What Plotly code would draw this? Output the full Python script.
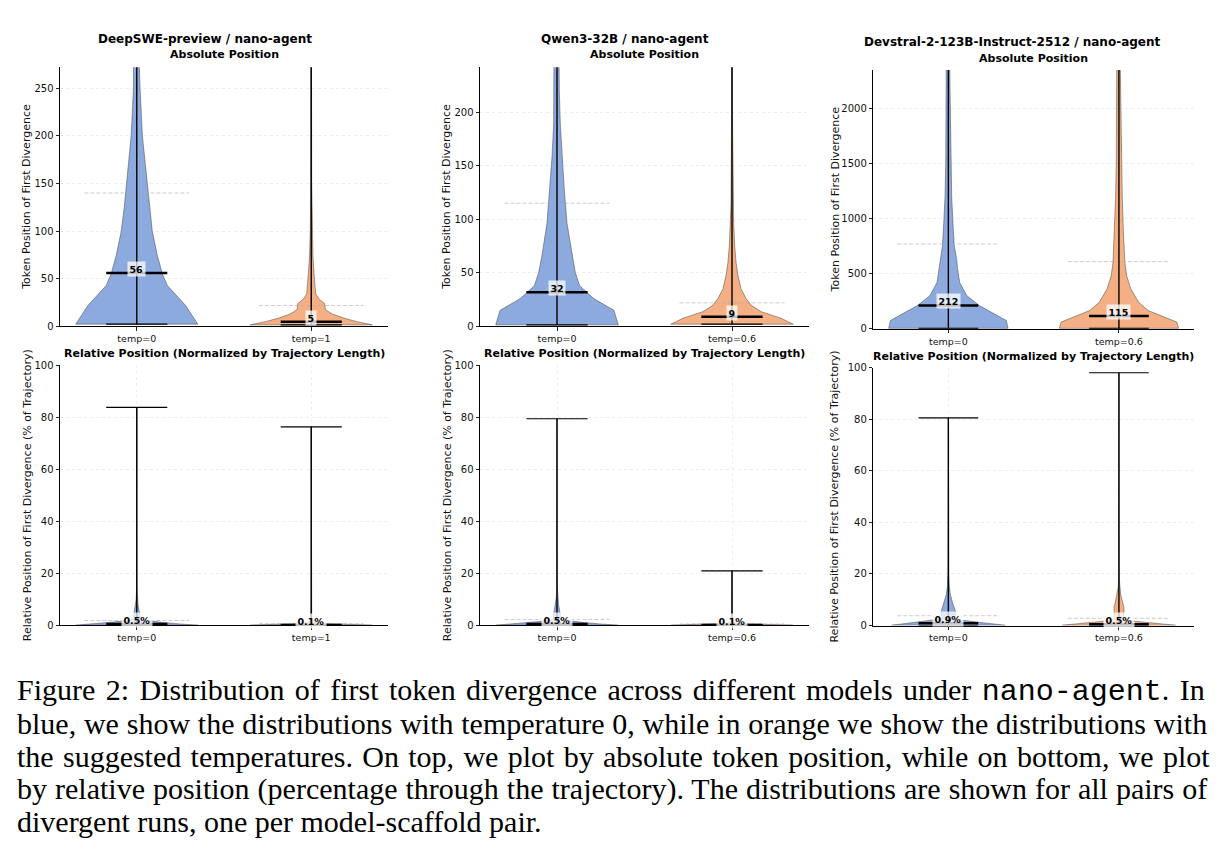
import plotly.graph_objects as go

W, H = 1219, 857

# ---------------- data ----------------
column_titles = ["DeepSWE-preview / nano-agent", "Qwen3-32B / nano-agent",
                 "Devstral-2-123B-Instruct-2512 / nano-agent"]
abs_title = "Absolute Position"
rel_title = "Relative Position (Normalized by Trajectory Length)"
abs_ylabel = "Token Position of First Divergence"
rel_ylabel = "Relative Position of First Divergence (% of Trajectory)"
temp_labels = [["temp=0", "temp=1"], ["temp=0", "temp=0.6"], ["temp=0", "temp=0.6"]]

abs_yticks = [[0, 50, 100, 150, 200, 250], [0, 50, 100, 150, 200], [0, 500, 1000, 1500, 2000]]
abs_ymax = [272, 242, 2350]
rel_yticks = [0, 20, 40, 60, 80, 100]

# summary statistics, [temp=0, suggested temp]
abs_median = [[56, 5], [32, 9], [212, 115]]
abs_mean = [[140, 22], [115, 22], [770, 610]]
abs_min = [[2.4, 1.7], [1.5, 2.1], [3, 3]]
abs_max = [[1400, 900], [800, 600], [6000, 6000]]
rel_median = [[0.5, 0.1], [0.5, 0.1], [0.9, 0.5]]
rel_mean = [[1.8, 0.6], [2.2, 0.5], [3.8, 2.8]]
rel_min = [[0.0, 0.0], [0.0, 0.0], [0.0, 0.0]]
rel_max = [[83.8, 76.3], [79.4, 20.9], [80.5, 98.0]]

# violin density profiles (level, relative density)
deepswe_t0_abs_y = [2.4, 22, 43, 55, 75, 100, 125, 150, 175, 200, 250, 272, 400, 800, 1400]
deepswe_t0_abs_d = [1.0, 0.80, 0.50, 0.42, 0.335, 0.254, 0.205, 0.168, 0.13, 0.092, 0.054, 0.043, 0.02, 0.006, 0.0]
deepswe_t1_abs_y = [1.7, 5, 9, 13, 16, 18, 24, 28.6, 34, 43, 50, 57, 74, 100, 150, 300, 900]
deepswe_t1_abs_d = [1.0, 0.75, 0.52, 0.35, 0.27, 0.23, 0.22, 0.13, 0.075, 0.06, 0.058, 0.045, 0.028, 0.015, 0.008, 0.003, 0.0]
qwen_t0_abs_y = [1.5, 15, 26, 38, 50, 66, 96, 127, 158, 188, 219, 242, 400, 800]
qwen_t0_abs_d = [1.0, 0.93, 0.60, 0.37, 0.30, 0.246, 0.164, 0.12, 0.082, 0.055, 0.038, 0.027, 0.011, 0.0]
qwen_t06_abs_y = [2.1, 7.7, 13.8, 20, 26, 35, 47.5, 60, 75, 96, 115, 200, 600]
qwen_t06_abs_d = [1.0, 0.80, 0.475, 0.31, 0.23, 0.148, 0.098, 0.066, 0.044, 0.028, 0.016, 0.007, 0.0]
devstral_t0_abs_y = [3, 75, 210, 300, 420, 540, 630, 750, 900, 1200, 1500, 1800, 2100, 2400, 6000]
devstral_t0_abs_d = [1.0, 0.97, 0.52, 0.31, 0.19, 0.155, 0.14, 0.10, 0.083, 0.056, 0.044, 0.033, 0.028, 0.022, 0.0]
devstral_t06_abs_y = [3, 60, 165, 240, 360, 480, 600, 900, 1200, 1500, 1800, 2100, 2400, 6000]
devstral_t06_abs_d = [1.0, 0.97, 0.49, 0.33, 0.20, 0.13, 0.10, 0.073, 0.056, 0.045, 0.034, 0.028, 0.022, 0.0]

deepswe_t0_rel_y = [0.0, 0.5, 1.0, 1.5, 2.0, 2.5, 4, 6, 8, 10, 14, 30, 83.8]
deepswe_t0_rel_d = [1.0, 0.70, 0.45, 0.25, 0.10, 0.06, 0.05, 0.035, 0.02, 0.01, 0.004, 0.001, 0.0]
deepswe_t1_rel_y = [0.0, 0.3, 0.6, 1.0, 1.5, 3, 10, 76.3]
deepswe_t1_rel_d = [1.0, 0.60, 0.30, 0.08, 0.02, 0.008, 0.002, 0.0]
qwen_t0_rel_y = [0.0, 0.5, 1.0, 1.5, 2.0, 2.5, 4, 6, 8, 11, 15, 30, 79.4]
qwen_t0_rel_d = [1.0, 0.70, 0.45, 0.25, 0.10, 0.065, 0.055, 0.04, 0.025, 0.01, 0.004, 0.001, 0.0]
qwen_t06_rel_y = [0.0, 0.25, 0.5, 0.8, 1.5, 5, 20.9]
qwen_t06_rel_d = [1.0, 0.60, 0.30, 0.08, 0.02, 0.004, 0.0]
devstral_t0_rel_y = [0.1, 1, 2, 2.5, 3, 4, 5.5, 7, 9, 12, 15, 20, 40, 80.5]
devstral_t0_rel_d = [0.95, 0.61, 0.24, 0.136, 0.10, 0.12, 0.12, 0.10, 0.068, 0.034, 0.017, 0.007, 0.002, 0.0]
devstral_t06_rel_y = [0.1, 1, 1.9, 2.5, 4, 6, 7.5, 9, 12, 15, 18, 40, 98]
devstral_t06_rel_d = [0.95, 0.55, 0.15, 0.08, 0.08, 0.085, 0.08, 0.06, 0.03, 0.012, 0.005, 0.001, 0.0]

abs_profiles = [[(deepswe_t0_abs_y, deepswe_t0_abs_d), (deepswe_t1_abs_y, deepswe_t1_abs_d)],
                [(qwen_t0_abs_y, qwen_t0_abs_d), (qwen_t06_abs_y, qwen_t06_abs_d)],
                [(devstral_t0_abs_y, devstral_t0_abs_d), (devstral_t06_abs_y, devstral_t06_abs_d)]]
rel_profiles = [[(deepswe_t0_rel_y, deepswe_t0_rel_d), (deepswe_t1_rel_y, deepswe_t1_rel_d)],
                [(qwen_t0_rel_y, qwen_t0_rel_d), (qwen_t06_rel_y, qwen_t06_rel_d)],
                [(devstral_t0_rel_y, devstral_t0_rel_d), (devstral_t06_rel_y, devstral_t06_rel_d)]]

caption_lines = [
    'Figure 2: Distribution of first token divergence across different models under '
    '<span style="font-family:Liberation Mono">nano-agent</span>. In',
    'blue, we show the distributions with temperature 0, while in orange we show the distributions with',
    'the suggested temperatures. On top, we plot by absolute token position, while on bottom, we plot',
    'by relative position (percentage through the trajectory). The distributions are shown for all pairs of',
    'divergent runs, one per model-scaffold pair.',
]
caption_word_spacing = [2.9, 0.3, 1.8, 0.5, 0.0]

# ---------------- style / layout ----------------
FILL = ["rgb(140,170,222)", "rgb(244,176,132)"]
FONT = "DejaVu Sans"
HALF_W = 0.35
CAP_W = 0.175
MEAN_W = 0.30

x_dom_px = [[60, 388], [480, 809], [873.3, 1194]]
y_top_px = [[62, 325], [62, 325], [65, 327.3]]
y_bot_px = [[364.3, 628], [364.3, 628], [366.7, 628.3]]
suptitle_px = [(205, 33), (625, 33), (1012, 37)]
ylabel_x_px = [27, 447, 835]

fig = go.Figure()
annotations = []
layout = {}


def px2x(p):
    return p / W


def px2y(p):
    return 1 - p / H


def add_panel(idx, col, prof, med, mean, mn, mx, yticks, yrange, title, title_y, ylabel, ypx, pct):
    xa = "x" if idx == 1 else f"x{idx}"
    ya = "y" if idx == 1 else f"y{idx}"
    for k in range(2):
        ys, ds = prof[col][k]
        xl = [k - d * HALF_W for d in ds]
        xr = [k + d * HALF_W for d in ds]
        fig.add_trace(go.Scatter(
            x=xl + xr[::-1] + [xl[0]], y=ys + ys[::-1] + [ys[0]],
            mode="lines", fill="toself", fillcolor=FILL[k],
            line=dict(color="rgba(60,60,60,0.8)", width=0.6),
            xaxis=xa, yaxis=ya, showlegend=False, hoverinfo="skip"))
        # mean (dashed)
        fig.add_trace(go.Scatter(
            x=[k - MEAN_W, k + MEAN_W], y=[mean[col][k]] * 2, mode="lines",
            line=dict(color="rgba(170,170,170,0.85)", width=0.7, dash="4px,2px"),
            xaxis=xa, yaxis=ya, showlegend=False, hoverinfo="skip"))
        # extrema line and caps
        fig.add_trace(go.Scatter(
            x=[k, k], y=[mn[col][k], mx[col][k]], mode="lines",
            line=dict(color="black", width=1.4),
            xaxis=xa, yaxis=ya, showlegend=False, hoverinfo="skip"))
        for v in (mn[col][k], mx[col][k]):
            fig.add_trace(go.Scatter(
                x=[k - CAP_W, k + CAP_W], y=[v, v], mode="lines",
                line=dict(color="black", width=1.2),
                xaxis=xa, yaxis=ya, showlegend=False, hoverinfo="skip"))
        # median
        fig.add_trace(go.Scatter(
            x=[k - CAP_W, k + CAP_W], y=[med[col][k]] * 2, mode="lines",
            line=dict(color="black", width=2.5),
            xaxis=xa, yaxis=ya, showlegend=False, hoverinfo="skip"))
        label = f"{med[col][k]:.1f}%" if pct else f"{med[col][k]:.0f}"
        annotations.append(dict(
            x=k, y=med[col][k], xref=xa, yref=ya, text=f"<b>{label}</b>",
            showarrow=False, yanchor="middle", yshift=4,
            font=dict(family=FONT, size=9.5, color="black"),
            bgcolor="rgba(255,255,255,0.75)", borderpad=1.5))
    axis_common = dict(showline=True, linecolor="black", linewidth=1,
                       ticks="outside", ticklen=3.5, tickwidth=1, tickcolor="#222",
                       showgrid=True, gridcolor="#eeeeee", gridwidth=0.8, griddash="dot",
                       zeroline=False, tickfont=dict(family=FONT, size=10, color="#111"))
    xk = "xaxis" if idx == 1 else f"xaxis{idx}"
    yk = "yaxis" if idx == 1 else f"yaxis{idx}"
    layout[xk] = dict(axis_common, domain=[px2x(x_dom_px[col][0]), px2x(x_dom_px[col][1])],
                      anchor=ya, range=[-0.44, 1.44], tickvals=[0, 1],
                      ticktext=temp_labels[col], tickfont=dict(family=FONT, size=9.5, color="#111"))
    layout[yk] = dict(axis_common, domain=[px2y(ypx[1]), px2y(ypx[0])],
                      anchor=xa, range=yrange, tickvals=yticks)
    cx = (x_dom_px[col][0] + x_dom_px[col][1]) / 2
    annotations.append(dict(x=px2x(cx), y=px2y(title_y), xref="paper", yref="paper",
                            text=f"<b>{title}</b>", showarrow=False,
                            xanchor="center", yanchor="middle",
                            font=dict(family=FONT, size=11, color="black")))
    annotations.append(dict(x=px2x(ylabel_x_px[col]), y=px2y((ypx[0] + ypx[1]) / 2),
                            xref="paper", yref="paper", text=ylabel, textangle=-90,
                            showarrow=False, xanchor="center", yanchor="middle",
                            font=dict(family=FONT, size=11, color="#111")))


for col in range(3):
    add_panel(col + 1, col, abs_profiles, abs_median, abs_mean, abs_min, abs_max,
              abs_yticks[col], [0, abs_ymax[col]], abs_title,
              49 if col < 2 else 53, abs_ylabel, y_top_px[col], False)
    add_panel(col + 4, col, rel_profiles, rel_median, rel_mean, rel_min, rel_max,
              rel_yticks, [0, 100], rel_title,
              352 if col < 2 else 355, rel_ylabel, y_bot_px[col], True)
    sx, sy = suptitle_px[col]
    annotations.append(dict(x=px2x(sx), y=px2y(sy), xref="paper", yref="paper",
                            text=f"<b>{column_titles[col]}</b>", showarrow=False,
                            xanchor="center", yanchor="middle",
                            font=dict(family=FONT, size=12, color="black")))

for i, line in enumerate(caption_lines):
    ws = caption_word_spacing[i]
    txt = f'<span style="word-spacing:{ws}px">{line}</span>' if ws else line
    annotations.append(dict(x=px2x(15), y=px2y(695 + 33 * i), xref="paper", yref="paper",
                            text=txt, showarrow=False, xanchor="left", yanchor="middle",
                            font=dict(family="Liberation Serif", size=30, color="black")))

fig.update_layout(width=W, height=H, margin=dict(l=0, r=0, t=0, b=0),
                  paper_bgcolor="white", plot_bgcolor="white",
                  annotations=annotations, **layout)
fig.write_html("out.html")
